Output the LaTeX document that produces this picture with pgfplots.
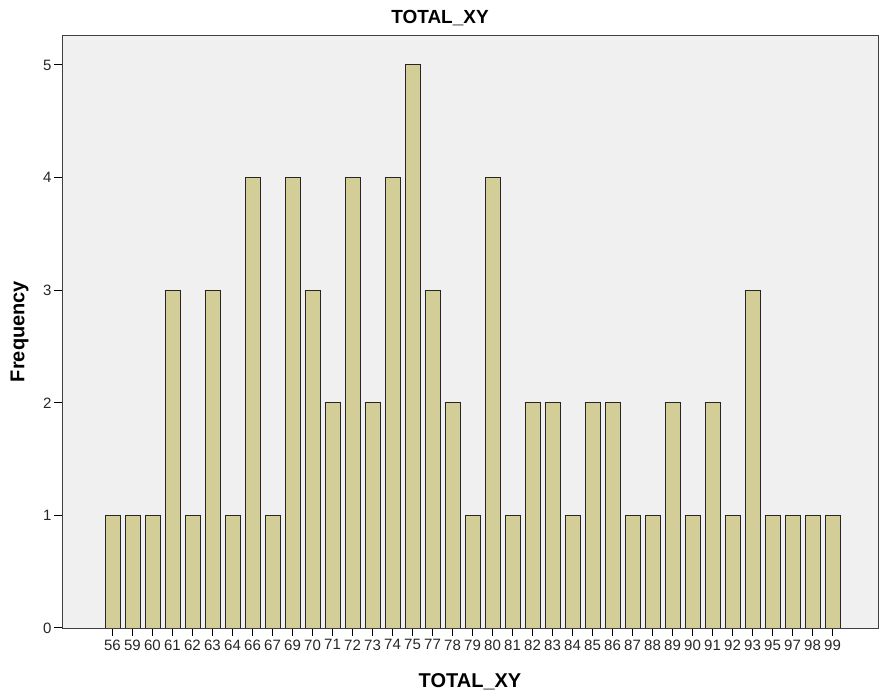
\documentclass[border=0pt]{standalone}
\usepackage{pgfplots}
\pgfplotsset{compat=1.18}
\usepackage{fontspec}
\setmainfont{Liberation Sans}
\definecolor{barfill}{RGB}{211,206,152}
\definecolor{bgfill}{RGB}{240,240,240}
\begin{document}
\begin{tikzpicture}
\useasboundingbox (-62pt,-72pt) rectangle (818pt,628pt);
\begin{axis}[
  scale only axis,
  width=816pt, height=593pt,
  xmin=-2.525, xmax=38.275,
  ymin=0, ymax=5.266,
  axis background/.style={fill=bgfill},
  axis line style={draw=black!75, line width=0.9pt},
  ybar, bar width=0.75,
  xtick={0,...,36},
  xticklabels={56,59,60,61,62,63,64,66,67,69,70,71,72,73,74,75,77,78,79,80,81,82,83,84,85,86,87,88,89,90,91,92,93,95,97,98,99},
  ytick={0,1,2,3,4,5},
  tick align=outside,
  major tick length=8pt,
  xtick pos=bottom, ytick pos=left,
  tick style={black, line width=1pt},
  /pgf/number format/assume math mode=true,
  tick label style={font=\fontsize{15}{16}\selectfont, text=black!85},
  xticklabel style={yshift=0pt},
  yticklabel style={xshift=1pt},
  title={\textbf{TOTAL\_XY}},
  title style={font=\fontsize{19}{20}\selectfont, at={(rel axis cs:0.5,1)}, anchor=base, yshift=5pt, xshift=-30pt},
  xlabel={\textbf{TOTAL\_XY}},
  xlabel style={font=\fontsize{20}{22}\selectfont, at={(rel axis cs:0.5,0)}, anchor=base, yshift=-60pt},
  ylabel={\textbf{Frequency}},
  ylabel style={font=\fontsize{20}{22}\selectfont, at={(axis description cs:-0.052,0.5)}, anchor=center},
]
\addplot[fill=barfill, draw=black!85, line width=0.9pt] coordinates {
(0,1)(1,1)(2,1)(3,3)(4,1)(5,3)(6,1)(7,4)(8,1)(9,4)(10,3)(11,2)(12,4)(13,2)(14,4)(15,5)(16,3)(17,2)(18,1)(19,4)(20,1)(21,2)(22,2)(23,1)(24,2)(25,2)(26,1)(27,1)(28,2)(29,1)(30,2)(31,1)(32,3)(33,1)(34,1)(35,1)(36,1)
};
\end{axis}
\end{tikzpicture}
\end{document}
